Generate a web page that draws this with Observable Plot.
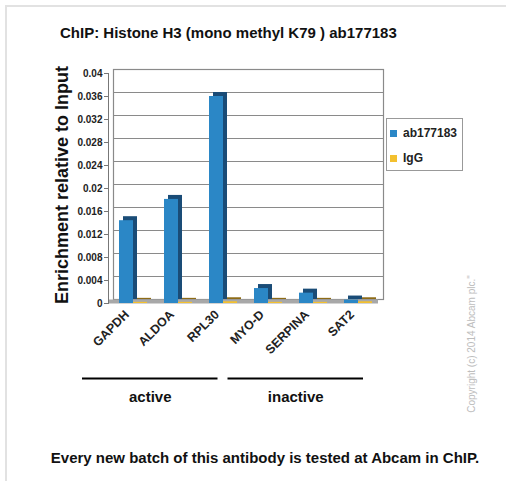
<!DOCTYPE html>
<html><head><meta charset="utf-8">
<script src="https://cdn.jsdelivr.net/npm/d3@7"></script>
<script src="https://cdn.jsdelivr.net/npm/@observablehq/plot@0.6"></script>
<style>
body{margin:0;background:#fff;font-family:"Liberation Sans",Arial,sans-serif;}
#page{position:relative;width:506px;height:481px;overflow:hidden;background:#fff;}
#border{position:absolute;left:5px;top:5px;right:-10px;bottom:-10px;border-left:2px solid #e2e2e2;border-top:2px solid #e2e2e2;}
.abs{position:absolute;white-space:nowrap;}
#title{left:60px;top:25px;font-size:15px;font-weight:bold;line-height:15px;color:#111;}
#caption{left:0;width:530px;text-align:center;top:450px;font-size:15px;font-weight:bold;line-height:15px;color:#111;}
#ylabel{left:-68px;top:176px;width:260px;text-align:center;font-size:18px;font-weight:bold;line-height:18px;color:#111;transform:rotate(-90deg);}
#copy{left:372px;top:338px;width:200px;text-align:center;font-size:10px;line-height:12px;color:#bdbdbd;transform:rotate(-90deg);}
#chart{left:0;top:0;}
#groups{left:0;top:370px;}
#legend{left:386px;top:118px;width:77px;height:53px;border:1px solid #999;box-sizing:border-box;background:#fff;padding:2px 0 0 3px;}
#legend *{font-family:"Liberation Sans",Arial,sans-serif !important;font-size:12px !important;font-weight:bold !important;color:#222;}
#legend > div > div{line-height:24px !important;height:24px !important;margin:0 !important;}
</style></head>
<body>
<div id="page">
  <div id="border"></div>
  <div id="chart" class="abs"></div>
  <div id="groups" class="abs"></div>
  <div id="title" class="abs">ChIP: Histone H3 (mono methyl K79 ) ab177183</div>
  <div id="ylabel" class="abs">Enrichment relative to Input</div>
  <div id="legend" class="abs"></div>
  <div id="copy" class="abs">Copyright (c) 2014 Abcam plc."</div>
  <div id="caption" class="abs">Every new batch of this antibody is tested at Abcam in ChIP.</div>
</div>
<script>
const categories = ["GAPDH", "ALDOA", "RPL30", "MYO-D", "SERPINA", "SAT2"];
const series = ["ab177183", "IgG"];
const abValues = [0.0144, 0.0181, 0.0360, 0.0026, 0.0018, 0.0006];
const iggValues = [0.0002, 0.0002, 0.0003, 0.0002, 0.0002, 0.0003];
const yTicks = [0, 0.004, 0.008, 0.012, 0.016, 0.02, 0.024, 0.028, 0.032, 0.036, 0.04];
const yTickLabels = ["0", "0.004", "0.008", "0.012", "0.016", "0.02", "0.024", "0.028", "0.032", "0.036", "0.04"];
const groups = ["active", "inactive"];
const groupSizes = [3, 3];

const frontColors = ["#2b87c6", "#f3c02f"];
const sideColors = ["#1a4c77", "#8e6b16"];

const data = categories.flatMap((c, i) => [
  {category: c, series: series[0], value: abValues[i]},
  {category: c, series: series[1], value: iggValues[i]}
]);

const font = "Liberation Sans, Arial, sans-serif";

const chart = Plot.plot({
  width: 506, height: 370,
  marginLeft: 108, marginRight: 128, marginTop: 73, marginBottom: 67,
  style: {fontFamily: font, background: "transparent", overflow: "visible", color: "#222"},
  fx: {domain: categories, padding: 0, label: null},
  x: {domain: series, paddingInner: 0, paddingOuter: 0.607, align: 0.65, axis: null},
  y: {domain: [0, 0.04], axis: null},
  color: {domain: series, range: frontColors},
  marks: [
    Plot.ruleY(yTicks.slice(1), {dx: 5, dy: -4, stroke: "#8a8a8a", strokeWidth: 1.2}),
    Plot.frame({facet: "super", dx: 5, dy: -4, stroke: "#8a8a8a", strokeWidth: 1.2}),
    Plot.ruleY([0], {dy: -2, strokeWidth: 4, stroke: "#a8a8a8"}),
    Plot.barY(data, {fx: "category", x: "series", y: "value", fill: d => sideColors[series.indexOf(d.series)], dx: 4, dy: -4}),
    Plot.barY(data, {fx: "category", x: "series", y: "value", fill: "series"}),
    Plot.frame({facet: "super", anchor: "left", stroke: "#777"}),
    Plot.axisY({ticks: yTicks, tickFormat: d => yTickLabels[yTicks.indexOf(d)], tickSize: 4, tickPadding: 2, fontSize: 10, fontWeight: "bold", label: null, stroke: "#777"}),
    Plot.axisFx({anchor: "bottom", tickRotate: -45, tickSize: 0, tickPadding: 9, dx: -4, fontSize: 12.5, fontWeight: "bold", label: null})
  ]
});
document.getElementById("chart").append(chart);

let acc = 0;
const groupData = groups.map((g, i) => { const s = acc; acc += groupSizes[i]; return {name: g, start: s, end: acc}; });
const total = acc;
const groupPlot = Plot.plot({
  width: 506, height: 40,
  marginLeft: 77, marginRight: 138, marginTop: 8, marginBottom: 13,
  style: {fontFamily: font, background: "transparent", overflow: "visible"},
  x: {domain: [0, total], axis: null},
  y: {domain: [0, 1], axis: null},
  marks: [
    Plot.ruleY(groupData, {x1: "start", x2: "end", y: 1, insetLeft: 5, insetRight: 5, stroke: "#000", strokeWidth: 2}),
    Plot.text(groupData, {x: d => (d.start + d.end) / 2, y: 0, text: "name", fontSize: 15, fontWeight: "bold", fill: "#111"})
  ]
});
document.getElementById("groups").append(groupPlot);

const legend = Plot.legend({color: {domain: series, range: frontColors}, legend: "swatches", columns: 1, swatchSize: 7});
document.getElementById("legend").append(legend);
</script>
</body></html>
